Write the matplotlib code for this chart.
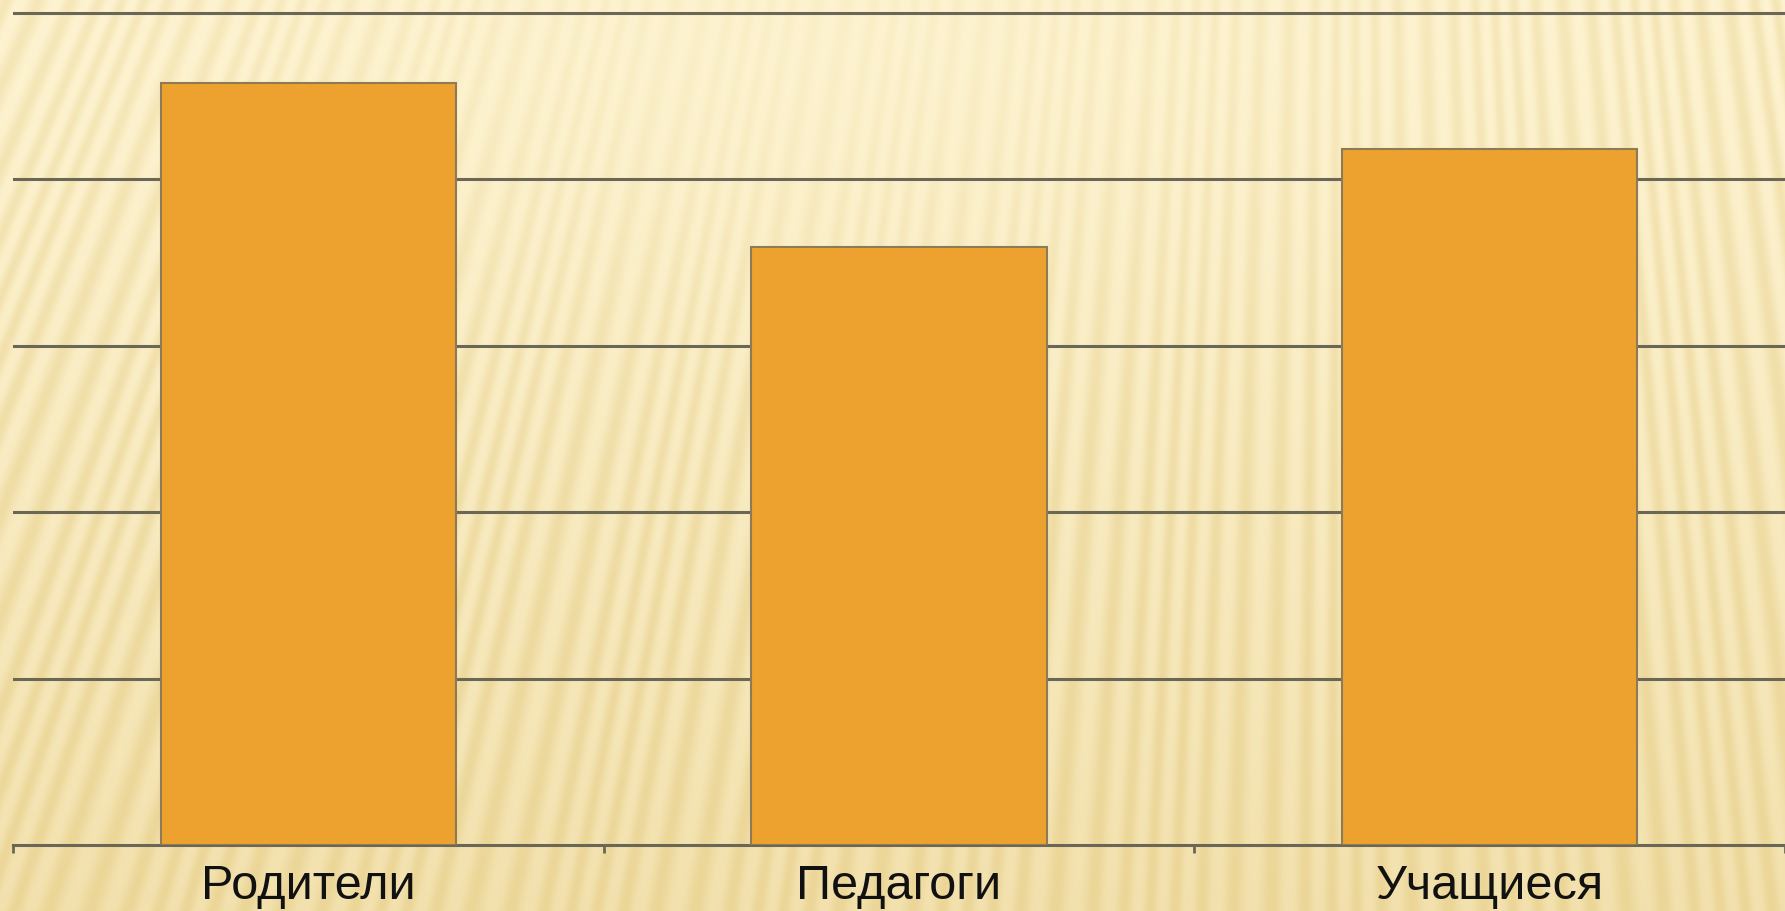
import numpy as np
import matplotlib
matplotlib.use("Agg")
import matplotlib.pyplot as plt

# data
categories = ["Родители", "Педагоги", "Учащиеся"]
values = [4.58, 3.59, 4.18]
grid_levels = [1, 2, 3, 4, 5]

W, H, DPI = 1785, 912, 100
fig = plt.figure(figsize=(W / DPI, H / DPI), dpi=DPI)

# background: warm gradient with fan-shaped soft stripes
bg = fig.add_axes([0, 0, 1, 1], zorder=0)
yy, xx = np.mgrid[0:H, 0:W].astype(float)
fx, fy = 1350.0, -3000.0
ang = np.arctan2(xx - fx, yy - fy)
phase = ang * 820 + 1.4 * np.sin(ang * 130)
stripe = 0.5 + 0.5 * np.sin(phase)
stripe = stripe ** 1.3

light = np.array([253, 243, 208]) / 255.0
dark = np.array([232, 208, 140]) / 255.0
vert = (yy / H) ** 1.3
glow = np.exp(-(((xx - 800) / 650) ** 2 + ((yy - 60) / 280) ** 2))
base = light * (1 - 0.5 * vert[..., None]) + dark * 0.5 * vert[..., None]
strength = (0.6 + 0.35 * vert) * (1 - 0.7 * glow)
k = (strength * stripe * 0.7)[..., None]
img = np.clip(base * (1 - k) + dark * k, 0, 1)
bg.imshow(img, extent=[0, W, H, 0], aspect="auto", interpolation="bilinear")
bg.set_xlim(0, W)
bg.set_ylim(H, 0)
bg.axis("off")

# chart
left = 13 / W
bottom = 1 - 846 / H
top_px = 13.7 - 0.05 * 166.5
ax = fig.add_axes([left, bottom, 1 - left, (846 - top_px) / H], zorder=1)
ax.patch.set_alpha(0)

x = np.arange(len(categories))
ax.bar(x, values, width=0.5, color="#EDA22F", edgecolor="#8E7B55",
       linewidth=1.5, zorder=3)

ax.set_xlim(-0.5, len(categories) - 0.5)
ax.set_ylim(0, 5.05)
ax.set_yticks(grid_levels)
ax.yaxis.grid(True, color="#6B6756", linewidth=2.2, zorder=1)
ax.tick_params(axis="y", length=0, labelleft=False)

for s in ["top", "right", "left"]:
    ax.spines[s].set_visible(False)
ax.spines["bottom"].set_color("#6B6756")
ax.spines["bottom"].set_linewidth(2.2)

ax.set_xticks(np.arange(-0.5, len(categories), 1.0))
ax.set_xticklabels([])
ax.tick_params(axis="x", which="major", length=6, width=2, color="#6B6756")
ax.set_xticks(x, minor=True)
ax.set_xticklabels(categories, minor=True, fontsize=35,
                   fontfamily="Liberation Sans", color="#111111")
ax.tick_params(axis="x", which="minor", length=0, pad=13)

fig.savefig("out.png", dpi=DPI)
